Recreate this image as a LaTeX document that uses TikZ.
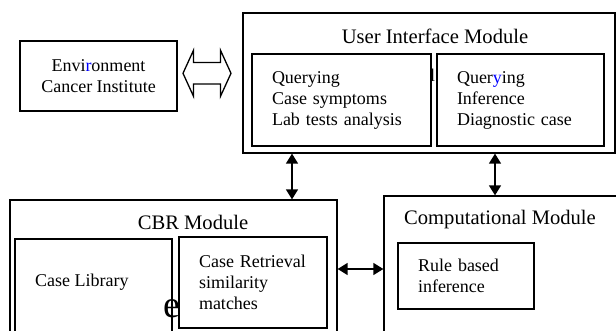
\documentclass[tikz,border=0pt]{standalone}
\usepackage{fontspec}
\setmainfont{Liberation Serif}
\usetikzlibrary{arrows.meta,calc}

\begin{document}
\begin{tikzpicture}[x=1pt,y=-1pt,
box/.style={draw,line width=1.3pt,fill=white,inner sep=0pt,font=\fontsize{18}{21}\selectfont},
tbox/.style={box,align=left,inner xsep=20pt},
title/.style={font=\fontsize{20.6}{24}\selectfont,inner sep=0pt},
label/.style={font=\fontsize{18}{21}\selectfont,inner sep=0pt},
flow/.style={{Triangle[length=10pt,width=12pt]}-{Triangle[length=10pt,width=12pt]},line width=1.5pt},
hollow/.style={draw,line width=1.3pt,fill=white,line join=miter}]
\useasboundingbox (0,0) rectangle (616,331);
\clip (0,0) rectangle (616,331);
\node[box,minimum width=157pt,minimum height=70pt,align=center] (env) at (98.5,76) {Envi\textcolor{blue}{r}onment\\Cancer Institute};
\node[box,minimum width=372pt,minimum height=140pt] (ui) at (429,83) {};
\node[title] (uititle) at (435,36) {User Interface Module};
\node[label,anchor=base west] (uifrag) at (430,82) {l};
\node[tbox,text width=139pt,minimum width=179pt,minimum height=92pt] (uiq) at (341.5,100) {Querying\\Case symptoms\\Lab tests analysis};
\node[tbox,text width=127pt,minimum width=167pt,minimum height=92pt] (uiinf) at (520.5,100) {Quer\textcolor{blue}{y}ing\\Inference\\Diagnostic case};
\node[box,minimum width=327pt,minimum height=170pt] (cbr) at (173.5,285) {};
\node[title] (cbrtitle) at (193,222) {CBR Module};
\node[box,minimum width=157pt,minimum height=131pt] (caselib) at (93.5,304.5) {};
\node[label,anchor=base west] (caselibtext) at (35,287) {Case Library};
\node[font=\fontsize{38}{40}\selectfont,inner sep=0pt,anchor=base] (cbrfrag) at (172,317) {e};
\node[tbox,text width=108pt,minimum width=148pt,minimum height=91pt] (caseret) at (253,282.5) {Case Retrieval\\similarity\\matches};
\node[box,minimum width=240pt,minimum height=174pt] (comp) at (504,283) {};
\node[title] (comptitle) at (500,220) {Computational Module};
\node[tbox,text width=96pt,minimum width=136pt,minimum height=66pt] (rule) at (466,276) {Rule based\\inference};
\coordinate (lx) at (292,0);
\coordinate (rx) at (495,0);
\coordinate (hy) at (0,269);
\coordinate (hc) at (207,73.3);
\draw[flow] (ui.south -| lx) -- (cbr.north -| lx);
\draw[flow] (ui.south -| rx) -- (comp.north -| rx);
\draw[flow] (cbr.east |- hy) -- (comp.west |- hy);
\draw[hollow] ($(hc)+(-24,0)$) -- ++(10.5,-23) -- ++(0,12.2) -- ++(27,0) -- ++(0,-12.2) -- ++(10.5,23) -- ++(-10.5,23) -- ++(0,-12.2) -- ++(-27,0) -- ++(0,12.2) -- cycle;
\end{tikzpicture}
\end{document}
